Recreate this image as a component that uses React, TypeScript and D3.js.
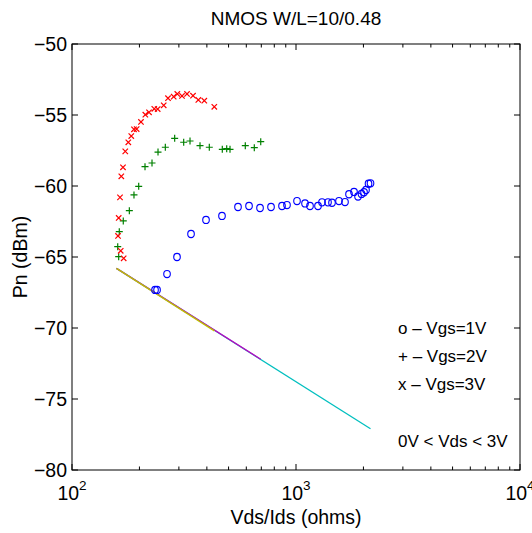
import React from "react";
import * as d3 from "d3";

const W = 532;
const H = 533;
const FONT = "'Liberation Sans', Arial, Helvetica, sans-serif";

const titleText = "NMOS W/L=10/0.48";
const xLabel = "Vds/Ids (ohms)";
const yLabel = "Pn (dBm)";

const yTicks = [-80, -75, -70, -65, -60, -55, -50];
const yTickLabels = ["\u221280", "\u221275", "\u221270", "\u221265", "\u221260", "\u221255", "\u221250"];
const xDecades = [100, 1000, 10000];
const xDecadeExp = ["2", "3", "4"];

// Vgs = 1V (blue circles)
const vgs1X = [234.8, 239.7, 265.6, 294.3, 339.9, 396.5, 467.3, 550.9, 617.0, 690.9, 773.5, 866.0, 911.6, 1010.4, 1097.1, 1154.8, 1253.7, 1306.5, 1389.5, 1447.7, 1555.6, 1654.8, 1724.3, 1815.5, 1891.9, 1961.0, 2012.2, 2053.8, 2107.5, 2151.1];
const vgs1Y = [-67.32, -67.32, -66.2, -65.0, -63.38, -62.39, -62.11, -61.48, -61.41, -61.55, -61.48, -61.41, -61.34, -61.06, -61.23, -61.41, -61.41, -61.15, -61.15, -61.18, -61.06, -61.13, -60.58, -60.42, -60.74, -60.56, -60.44, -60.28, -59.84, -59.81];

// Vgs = 2V (green plus)
const vgs2X = [161.6, 160.0, 162.6, 169.4, 180.3, 189.1, 198.5, 211.8, 227.6, 242.1, 261.0, 287.3, 315.2, 336.4, 372.8, 410.2, 468.8, 490.5, 507.4, 593.8, 651.4, 695.9];
const vgs2Y = [-64.98, -64.27, -63.22, -62.46, -61.74, -60.63, -60.02, -58.64, -58.38, -57.61, -57.27, -56.64, -56.92, -56.83, -57.16, -57.27, -57.42, -57.37, -57.42, -57.16, -57.3, -56.88];

// Vgs = 3V (red x)
const vgs3X = [170.1, 165.0, 160.5, 161.6, 163.8, 166.0, 168.9, 172.9, 178.4, 183.9, 189.1, 194.4, 203.2, 212.5, 220.7, 233.0, 241.3, 256.7, 268.3, 284.4, 295.2, 309.8, 326.2, 346.9, 366.4, 389.6, 431.8];
const vgs3Y = [-65.09, -64.56, -63.52, -62.25, -60.8, -59.32, -58.68, -57.56, -56.92, -56.48, -56.01, -55.99, -55.49, -54.98, -54.81, -54.56, -54.58, -54.32, -53.82, -53.71, -53.52, -53.66, -53.52, -53.64, -53.94, -53.99, -54.42];

// reference (thermal) lines: common start, one end per series
const lineStartX = 158;
const lineStartY = -65.8;
const lineEndX = [2151, 696, 432];
const lineEndY = [-77.1, -72.2, -70.2];
const lineColors = ["rgb(0,191,191)", "rgb(191,0,191)", "rgb(191,191,0)"];

const legendLines = ["o \u2013 Vgs=1V", "+ \u2013 Vgs=2V", "x \u2013 Vgs=3V"];
const noteText = "0V < Vds < 3V";

const M = { left: 72, right: 520, top: 44, bottom: 470 };

export default function App() {
  const x = d3.scaleLog().domain([100, 10000]).range([M.left, M.right]);
  const y = d3.scaleLinear().domain([-80, -50]).range([M.bottom, M.top]);

  const minorX: number[] = [];
  for (let d = 100; d < 10000; d *= 10) {
    for (let k = 2; k <= 9; k++) minorX.push(d * k);
  }

  const line = d3
    .line<[number, number]>()
    .x((d) => x(d[0]))
    .y((d) => y(d[1]));

  const circles = vgs1X.map((v, i) => ({ cx: x(v), cy: y(vgs1Y[i]) }));
  const pluses = vgs2X.map((v, i) => ({ cx: x(v), cy: y(vgs2Y[i]) }));
  const crosses = vgs3X.map((v, i) => ({ cx: x(v), cy: y(vgs3Y[i]) }));

  const majT = 6;
  const minT = 3.5;
  const cs = 2.7;
  const ps = 3.5;

  return (
    <svg
      width={W}
      height={H}
      style={{ position: "absolute", left: 0, top: 0, background: "#fff" }}
      fontFamily={FONT}
    >
      <rect x={0} y={0} width={W} height={H} fill="#fff" />
      {/* reference lines */}
      {lineEndX.map((ex, i) => (
        <path
          key={"l" + i}
          d={line([
            [lineStartX, lineStartY],
            [ex, lineEndY[i]],
          ]) as string}
          stroke={lineColors[i]}
          strokeWidth={1.3}
          fill="none"
        />
      ))}
      {/* blue circles */}
      {circles.map((p, i) => (
        <ellipse key={"c" + i} cx={p.cx} cy={p.cy} rx={3.3} ry={3.6} fill="none" stroke="#0000ff" strokeWidth={1.1} />
      ))}
      {/* green plus */}
      {pluses.map((p, i) => (
        <path
          key={"p" + i}
          d={`M${p.cx - ps},${p.cy}H${p.cx + ps}M${p.cx},${p.cy - ps}V${p.cy + ps}`}
          stroke="#008000"
          strokeWidth={1.2}
          fill="none"
        />
      ))}
      {/* red x */}
      {crosses.map((p, i) => (
        <path
          key={"x" + i}
          d={`M${p.cx - cs},${p.cy - cs}L${p.cx + cs},${p.cy + cs}M${p.cx - cs},${p.cy + cs}L${p.cx + cs},${p.cy - cs}`}
          stroke="#ff0000"
          strokeWidth={1.2}
          fill="none"
        />
      ))}

      {/* frame */}
      <rect x={M.left} y={M.top} width={M.right - M.left} height={M.bottom - M.top} fill="none" stroke="#000" strokeWidth={1} />

      {/* y ticks */}
      {yTicks.map((t, i) => (
        <g key={"yt" + i}>
          <line x1={M.left} x2={M.left + majT} y1={y(t)} y2={y(t)} stroke="#000" />
          <line x1={M.right} x2={M.right - majT} y1={y(t)} y2={y(t)} stroke="#000" />
          <text x={M.left - 5} y={y(t) + 7} textAnchor="end" fontSize={19.5} fill="#000">
            {yTickLabels[i]}
          </text>
        </g>
      ))}
      {/* x ticks */}
      {xDecades.map((d, i) => (
        <g key={"xt" + i}>
          <line x1={x(d)} x2={x(d)} y1={M.bottom} y2={M.bottom - majT} stroke="#000" />
          <line x1={x(d)} x2={x(d)} y1={M.top} y2={M.top + majT} stroke="#000" />
          <text x={x(d)} y={500} textAnchor="middle" fontSize={19.5} fill="#000">
            10
            <tspan dy={-10} fontSize={13.5}>
              {xDecadeExp[i]}
            </tspan>
          </text>
        </g>
      ))}
      {minorX.map((d, i) => (
        <g key={"mx" + i}>
          <line x1={x(d)} x2={x(d)} y1={M.bottom} y2={M.bottom - minT} stroke="#000" />
          <line x1={x(d)} x2={x(d)} y1={M.top} y2={M.top + minT} stroke="#000" />
        </g>
      ))}

      {/* title & labels */}
      <text x={(M.left + M.right) / 2} y={25} textAnchor="middle" fontSize={19} fill="#000">
        {titleText}
      </text>
      <text x={(M.left + M.right) / 2} y={524} textAnchor="middle" fontSize={19.5} fill="#000">
        {xLabel}
      </text>
      <text
        transform={`translate(27,${(M.top + M.bottom) / 2}) rotate(-90)`}
        textAnchor="middle"
        fontSize={19.5}
        fill="#000"
      >
        {yLabel}
      </text>

      {/* legend text */}
      {legendLines.map((s, i) => (
        <text key={"lg" + i} x={398} y={334 + i * 28} fontSize={17} fill="#000">
          {s}
        </text>
      ))}
      <text x={398} y={447} fontSize={17} fill="#000">
        {noteText}
      </text>
    </svg>
  );
}
